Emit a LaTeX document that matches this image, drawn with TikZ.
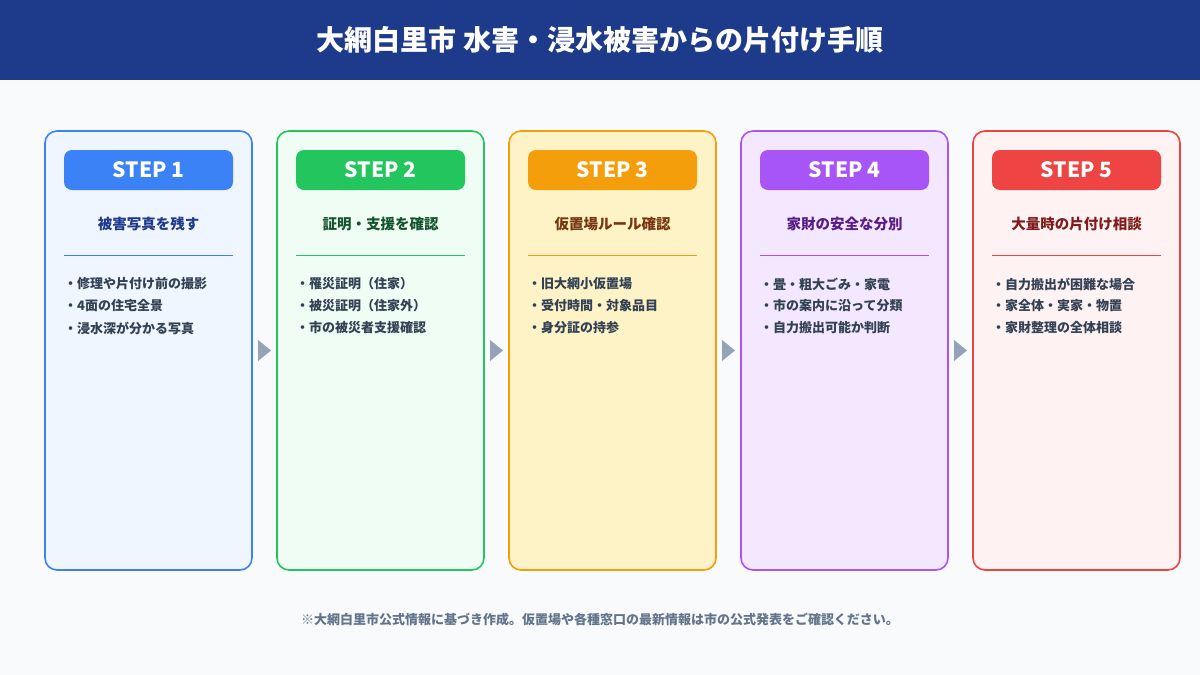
\documentclass[tikz,border=0pt]{standalone}
\usepackage{fontspec}
\setmainfont{Noto Sans CJK JP}
\usetikzlibrary{calc}
\definecolor{bgc}{HTML}{F8FAFC}
\definecolor{hdr}{HTML}{1E3A8A}
\definecolor{itemc}{HTML}{334155}
\definecolor{footc}{HTML}{64748B}
\definecolor{arrowc}{HTML}{94A3B8}
\definecolor{s1main}{HTML}{3B82F6}\definecolor{s1fill}{HTML}{EFF6FF}\definecolor{s1text}{HTML}{1E3A8A}
\definecolor{s2main}{HTML}{22C55E}\definecolor{s2fill}{HTML}{F0FDF4}\definecolor{s2text}{HTML}{14532D}
\definecolor{s3main}{HTML}{F59E0B}\definecolor{s3fill}{HTML}{FEF3C7}\definecolor{s3text}{HTML}{78350F}
\definecolor{s4main}{HTML}{A855F7}\definecolor{s4fill}{HTML}{F3E8FF}\definecolor{s4text}{HTML}{581C87}
\definecolor{s5main}{HTML}{EF4444}\definecolor{s5fill}{HTML}{FEF2F2}\definecolor{s5text}{HTML}{7F1D1D}
\tikzset{
  titlestyle/.style={text=white,font=\fontsize{28}{32}\selectfont\bfseries,inner sep=0},
  card/.style={rectangle,rounded corners=12pt,line width=1.6pt,minimum width=207pt,minimum height=439pt,inner sep=0},
  badge/.style={rectangle,rounded corners=8pt,minimum width=169pt,minimum height=40pt,inner sep=0,text=white,font=\fontsize{21}{25}\selectfont\bfseries},
  subt/.style={inner sep=0,font=\fontsize{14.5}{17}\selectfont\bfseries},
  item/.style={inner sep=0,anchor=west,text=itemc,font=\fontsize{13}{16}\selectfont\bfseries},
  divider/.style={line width=1pt},
  tri/.style={fill=arrowc},
  foot/.style={inner sep=0,text=footc,font=\fontsize{13}{16}\selectfont\bfseries}
}
\begin{document}
\begin{tikzpicture}[x=1pt,y=-1pt]
\useasboundingbox (0,0) rectangle (1200,675);
\fill[bgc] (0,0) rectangle (1200,675);
\fill[hdr] (0,0) rectangle (1200,80);
\node[titlestyle] (title) at (600,40) {大網白里市 水害・浸水被害からの片付け手順};
\foreach \i/\sub/\ba/\bb/\bc in {
  1/被害写真を残す/修理や片付け前の撮影/4面の住宅全景/浸水深が分かる写真,
  2/証明・支援を確認/罹災証明（住家）/被災証明（住家外）/市の被災者支援確認,
  3/仮置場ルール確認/旧大網小仮置場/受付時間・対象品目/身分証の持参,
  4/家財の安全な分別/畳・粗大ごみ・家電/市の案内に沿って分類/自力搬出可能か判断,
  5/大量時の片付け相談/自力搬出が困難な場合/家全体・実家・物置/家財整理の全体相談}{
  \pgfmathsetmacro{\cx}{148.5+232*(\i-1)}
  \pgfmathsetmacro{\lx}{64+232*(\i-1)}
  \pgfmathsetmacro{\rx}{233+232*(\i-1)}
  \node[card,draw=s\i main,fill=s\i fill] (card\i) at (\cx,350.5) {};
  \node[badge,fill=s\i main] (badge\i) at (\cx,170) {STEP \i};
  \node[subt,text=s\i text] (sub\i) at (\cx,224) {\sub};
  \draw[divider,s\i main] (\lx,255) -- (\rx,255);
  \node[item] (item\i a) at (\lx,284) {・\ba};
  \node[item] (item\i b) at (\lx,306) {・\bb};
  \node[item] (item\i c) at (\lx,328) {・\bc};
}
\foreach \i in {1,2,3,4}{
  \pgfmathtruncatemacro{\j}{\i+1}
  \coordinate (m\i) at ($(card\i.east)!0.5!(card\j.west)$);
  \fill[tri] ($(m\i)+(-6.5,-10.5)$) -- ($(m\i)+(6.5,0)$) -- ($(m\i)+(-6.5,10.5)$) -- cycle;
}
\node[foot] (footer) at (600,619) {※大網白里市公式情報に基づき作成。仮置場や各種窓口の最新情報は市の公式発表をご確認ください。};
\end{tikzpicture}
\end{document}
